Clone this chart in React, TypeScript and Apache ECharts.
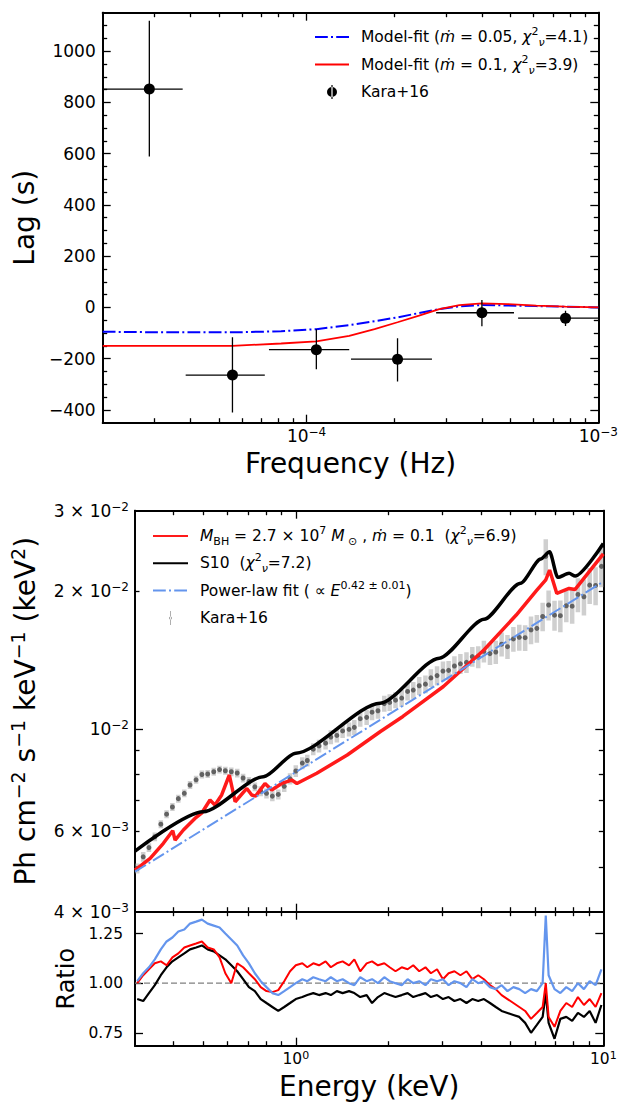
import React, { useEffect, useRef } from 'react';
import * as echarts from 'echarts';

const FONT = 'DejaVu Sans';
const MINUS = '\u2212';

// ---------- Top panel: lag-frequency ----------
const LAG_FREQ = [2.89e-5, 5.57e-5, 1.08e-4, 2.05e-4, 3.99e-4, 7.72e-4];
const LAG = [852, -264, -165, -202, -21, -42];
const LAG_F_LO = [2.0e-5, 3.85e-5, 7.43e-5, 1.42e-4, 2.78e-4, 5.31e-4];
const LAG_F_HI = [3.76e-5, 7.19e-5, 1.4e-4, 2.69e-4, 5.14e-4, 1.0e-3];
const LAG_LO = [589, -410, -241, -289, -74, -73];
const LAG_HI = [1119, -117, -85, -120, 29, -13];

const MODEL_FREQ = [2.0e-5, 3.0e-5, 5.57e-5, 8.18e-5, 1.08e-4, 1.4e-4, 1.71e-4, 2.05e-4, 2.43e-4, 2.85e-4, 3.34e-4, 3.99e-4, 4.9e-4, 6.13e-4, 7.72e-4, 1.0e-3];
const MODEL_M005 = [-95, -97, -97.5, -93, -85, -69, -54, -39, -22, -6.5, 4, 9, 7.5, 5, 2.6, 0];
const MODEL_M01 = [-150, -150, -150, -141, -133, -111, -85, -58, -32, -6.5, 9, 15.6, 13, 6.5, 2.6, 0];

// ---------- Middle panel: spectrum ----------
const SPEC_E = [
  0.305, 0.319, 0.333, 0.348, 0.364, 0.38, 0.397, 0.415, 0.434, 0.453,
  0.474, 0.495, 0.517, 0.541, 0.565, 0.59, 0.617, 0.645, 0.674, 0.704,
  0.736, 0.769, 0.803, 0.839, 0.877, 0.917, 0.958, 1.0, 1.05, 1.09,
  1.14, 1.19, 1.25, 1.3, 1.36, 1.42, 1.49, 1.55, 1.62, 1.7,
  1.77, 1.85, 1.94, 2.02, 2.11, 2.21, 2.31, 2.41, 2.52, 2.64,
  2.75, 2.88, 3.01, 3.14, 3.28, 3.43, 3.59, 3.75, 3.92, 4.09,
  4.28, 4.47, 4.67, 4.88, 5.1, 5.33, 5.57, 5.82, 6.08, 6.35,
  6.5, 6.64, 6.94, 7.25, 7.58, 7.92, 8.27, 8.65, 9.03, 9.44, 9.86,
];
const SPEC_F = [
  4.97e-3, 5.27e-3, 5.52e-3, 5.83e-3, 6.21e-3, 6.53e-3, 6.77e-3, 7.06e-3, 7.25e-3, 7.56e-3,
  7.76e-3, 7.97e-3, 7.99e-3, 8.08e-3, 8.17e-3, 8.12e-3, 8.08e-3, 8.03e-3, 7.83e-3, 7.7e-3,
  7.49e-3, 7.33e-3, 7.25e-3, 7.15e-3, 7.21e-3, 7.51e-3, 7.8e-3, 8.11e-3, 8.44e-3, 8.55e-3,
  9.05e-3, 9.2e-3, 9.33e-3, 9.62e-3, 9.7e-3, 9.92e-3, 1.0e-2, 1.01e-2, 1.055e-2, 1.062e-2,
  1.09e-2, 1.098e-2, 1.138e-2, 1.145e-2, 1.158e-2, 1.17e-2, 1.21e-2, 1.218e-2, 1.245e-2, 1.255e-2,
  1.295e-2, 1.31e-2, 1.34e-2, 1.345e-2, 1.375e-2, 1.39e-2, 1.4e-2, 1.441e-2, 1.439e-2, 1.48e-2,
  1.463e-2, 1.475e-2, 1.534e-2, 1.515e-2, 1.575e-2, 1.588e-2, 1.585e-2, 1.648e-2, 1.661e-2, 1.763e-2,
  2.385e-2, 1.868e-2, 1.775e-2, 1.77e-2, 1.861e-2, 1.857e-2, 1.969e-2, 1.947e-2, 2.064e-2, 2.061e-2, 2.268e-2,
];
const SPEC_RELERR = [
  0.025, 0.025, 0.022, 0.022, 0.02, 0.02, 0.02, 0.02, 0.02, 0.02,
  0.02, 0.02, 0.02, 0.02, 0.02, 0.02, 0.022, 0.022, 0.022, 0.022,
  0.022, 0.025, 0.025, 0.025, 0.025, 0.028, 0.028, 0.03, 0.03, 0.03,
  0.03, 0.032, 0.032, 0.035, 0.035, 0.035, 0.035, 0.038, 0.04, 0.038,
  0.04, 0.04, 0.04, 0.042, 0.04, 0.042, 0.045, 0.042, 0.045, 0.045,
  0.045, 0.048, 0.05, 0.048, 0.05, 0.05, 0.052, 0.05, 0.055, 0.055,
  0.055, 0.058, 0.06, 0.06, 0.062, 0.065, 0.065, 0.07, 0.07, 0.072,
  0.09, 0.075, 0.075, 0.08, 0.08, 0.085, 0.085, 0.09, 0.09, 0.095, 0.1,
];

const RED_E = [0.3, 0.336, 0.371, 0.398, 0.405, 0.431, 0.47, 0.494, 0.526, 0.546, 0.574, 0.608, 0.635, 0.693, 0.719, 0.74, 0.794, 0.835, 0.9, 0.97, 1.008, 1.17, 1.47, 1.88, 2.23, 3.02, 4.09, 5.21, 6.07, 6.5, 6.69, 7.06, 7.74, 8.1, 10.0];
const RED_F = [4.93e-3, 5.23e-3, 5.64e-3, 6.01e-3, 5.73e-3, 6.03e-3, 6.39e-3, 6.56e-3, 7.01e-3, 6.84e-3, 7.19e-3, 7.95e-3, 6.95e-3, 7.43e-3, 7.19e-3, 7.15e-3, 7.62e-3, 7.37e-3, 7.62e-3, 7.75e-3, 7.62e-3, 8.02e-3, 8.79e-3, 9.88e-3, 1.067e-2, 1.24e-2, 1.49e-2, 1.776e-2, 2.01e-2, 2.12e-2, 2.226e-2, 1.98e-2, 2.03e-2, 2.02e-2, 2.415e-2];

const S10_E = [0.3, 0.5, 0.784, 1.0, 1.88, 2.93, 4.09, 5.38, 6.26, 6.69, 7.11, 7.74, 8.1, 10.0];
const S10_F = [5.42e-3, 6.61e-3, 7.88e-3, 8.87e-3, 1.14e-2, 1.43e-2, 1.738e-2, 2.083e-2, 2.353e-2, 2.44e-2, 2.146e-2, 2.19e-2, 2.16e-2, 2.545e-2];

const PL_E = [0.3, 10.0];
const PL_F = [4.89e-3, 2.1e-2];

// ---------- Bottom panel: ratios (same energy grid as SPEC_E) ----------
const RATIO_PL = [
  1.01, 1.05, 1.08, 1.12, 1.17, 1.21, 1.23, 1.26, 1.27, 1.3,
  1.31, 1.32, 1.3, 1.29, 1.28, 1.25, 1.22, 1.19, 1.14, 1.1,
  1.05, 1.01, 0.98, 0.95, 0.94, 0.96, 0.98, 1.0, 1.02, 1.01,
  1.03, 1.02, 1.01, 1.03, 1.01, 1.02, 1.0, 0.99, 1.03, 1.01,
  1.02, 1.0, 1.03, 1.01, 1.0, 0.99, 1.02, 1.0, 1.01, 0.99,
  1.02, 1.01, 1.02, 0.99, 1.01, 1.0, 0.98, 1.02, 1.0, 1.01,
  0.98, 0.97, 0.99, 0.96, 0.98, 0.97, 0.95, 0.97, 0.96, 1.0,
  1.34, 1.04, 0.97, 0.95, 0.98, 0.96, 1.0, 0.97, 1.01, 0.99, 1.07,
];
const RATIO_MODEL = [
  1.0, 1.04, 1.07, 1.1, 1.11, 1.09, 1.13, 1.15, 1.18, 1.19,
  1.2, 1.21, 1.18, 1.17, 1.13, 1.05, 1.0, 1.1, 1.08, 1.05,
  1.02, 0.98, 0.96, 0.955, 0.965, 1.01, 1.06, 1.09, 1.1, 1.08,
  1.1, 1.09, 1.11, 1.08, 1.1, 1.11, 1.09, 1.12, 1.06, 1.1,
  1.11, 1.09, 1.1, 1.08, 1.06, 1.08, 1.07, 1.09, 1.06, 1.08,
  1.05, 1.07, 1.02, 1.05, 1.06, 1.04, 1.06, 1.02, 1.04, 1.02,
  0.99, 0.97, 0.94, 0.92, 0.9, 0.88, 0.86, 0.82, 0.85, 0.88,
  1.0, 0.83, 0.78, 0.86, 0.9, 0.88, 0.93, 0.89, 0.92, 0.88, 0.95,
];
const RATIO_S10 = [
  0.92, 0.91, 0.95, 0.99, 1.04, 1.08, 1.11, 1.13, 1.15, 1.17,
  1.18, 1.19, 1.17, 1.16, 1.14, 1.12, 1.09, 1.06, 1.02, 0.98,
  0.96, 0.92, 0.9, 0.88, 0.86, 0.88, 0.9, 0.92, 0.93, 0.94,
  0.95, 0.94, 0.95, 0.94, 0.96, 0.95, 0.96, 0.95, 0.93, 0.94,
  0.9, 0.93, 0.95, 0.94, 0.93, 0.94, 0.95, 0.93, 0.94, 0.95,
  0.93, 0.94, 0.92, 0.93, 0.91, 0.92, 0.9, 0.92, 0.91, 0.92,
  0.9, 0.88, 0.86, 0.85, 0.84, 0.83, 0.8, 0.75, 0.79, 0.83,
  0.95, 0.8, 0.72, 0.82, 0.83, 0.81, 0.85, 0.83, 0.86, 0.8, 0.89,
];
const UNITY_E = [0.3, 10.0];
const UNITY_R = [1.0, 1.0];

// ---------- Ticks ----------
const TOP_X_MAJOR = [1e-4];
const TOP_X_LABELS = [1e-4, 1e-3];
const TOP_X_MINOR = [3e-5, 4e-5, 5e-5, 6e-5, 7e-5, 8e-5, 9e-5, 2e-4, 3e-4, 4e-4, 5e-4, 6e-4, 7e-4, 8e-4, 9e-4];
const TOP_Y_MAJOR = [-400, -200, 0, 200, 400, 600, 800, 1000];
const TOP_Y_MINOR = [-350, -300, -250, -150, -100, -50, 50, 100, 150, 250, 300, 350, 450, 500, 550, 650, 700, 750, 850, 900, 950, 1050, 1100];
const E_MAJOR = [1];
const E_LABELS = [1, 10];
const E_MINOR = [0.4, 0.5, 0.6, 0.7, 0.8, 0.9, 2, 3, 4, 5, 6, 7, 8, 9];
const SPEC_Y_MAJOR = [0.01];
const SPEC_Y_LABELS = [0.004, 0.006, 0.01, 0.02, 0.03];
const SPEC_Y_MINOR = [0.005, 0.006, 0.007, 0.008, 0.009, 0.02];
const RATIO_Y = [0.75, 1.0, 1.25];

// ---------- Names ----------
const N_M005 = 'Model-fit (ṁ = 0.05, χ²ν=4.1)';
const N_M01 = 'Model-fit (ṁ = 0.1, χ²ν=3.9)';
const N_KARA = 'Kara+16';
const N_RED = 'M_BH = 2.7 × 10⁷ M⊙, ṁ = 0.1  (χ²ν=6.9)';
const N_S10 = 'S10  (χ²ν=7.2)';
const N_PL = 'Power-law fit ( ∝ E^0.42 ± 0.01)';

const LEGEND_RICH_TEXT: Record<string, string> = {
  [N_M005]: '{t|Model-fit (}{i|ṁ}{t| = 0.05, }{i|χ}{sup|2}{sub|ν}{t|=4.1)}',
  [N_M01]: '{t|Model-fit (}{i|ṁ}{t| = 0.1, }{i|χ}{sup|2}{sub|ν}{t|=3.9)}',
  [N_KARA]: '{t|Kara+16}',
  [N_RED]: '{i|M}{subr|BH}{t| = 2.7 × 10}{sup|7}{t| }{i|M}{subr| ⊙}{t| , }{i|ṁ}{t| = 0.1  (}{i|χ}{sup|2}{sub|ν}{t|=6.9)}',
  [N_S10]: '{t|S10  (}{i|χ}{sup|2}{sub|ν}{t|=7.2)}',
  [N_PL]: '{t|Power-law fit ( ∝ }{i|E}{sup|0.42 ± 0.01}{t|)}',
};

const LEGEND_RICH = {
  t: { fontSize: 15.5, fontFamily: FONT, color: '#000', lineHeight: 22 },
  i: { fontSize: 15.5, fontFamily: FONT, fontStyle: 'italic', color: '#000', lineHeight: 22 },
  sup: { fontSize: 11, fontFamily: FONT, color: '#000', lineHeight: 11, verticalAlign: 'top' },
  sub: { fontSize: 11, fontFamily: FONT, fontStyle: 'italic', color: '#000', lineHeight: 11, verticalAlign: 'bottom' },
  subr: { fontSize: 11, fontFamily: FONT, color: '#000', lineHeight: 11, verticalAlign: 'bottom' },
};

function powLabel(v: number): string {
  const e = Math.floor(Math.log10(v) + 1e-9);
  const m = Math.round(v / Math.pow(10, e));
  const es = e < 0 ? MINUS + String(-e) : String(e);
  return m === 1 ? `{b|10}{s|${es}}` : `{b|${m} × 10}{s|${es}}`;
}

const AX_LINE = { show: true, onZero: false, lineStyle: { color: '#000', width: 1.8 } };

function mkAxis(base: any, ticks: number[], len: number, label?: any) {
  return {
    ...base,
    axisLine: AX_LINE,
    axisTick: ticks.length
      ? { show: true, inside: true, length: len, customValues: ticks, lineStyle: { color: '#000', width: 1.3 } }
      : { show: false },
    axisLabel: label || { show: false },
    splitLine: { show: false },
    minorTick: { show: false },
  };
}

function supRich(size: number, supSize: number, lh: number) {
  return {
    b: { fontSize: size, fontFamily: FONT, color: '#000', lineHeight: lh },
    s: { fontSize: supSize, fontFamily: FONT, color: '#000', lineHeight: supSize, verticalAlign: 'top' },
  };
}

function buildOption(): any {
  const G0 = { left: 102.7, top: 12.7, width: 495.6, height: 410 };
  const G1 = { left: 135, top: 510.7, width: 468.3, height: 401 };
  const G2 = { left: 135, top: 911.7, width: 468.3, height: 134 };

  const topX = { type: 'log', logBase: 10, min: 2e-5, max: 1e-3 };
  const topY = { type: 'value', min: -450, max: 1150 };
  const eX = { type: 'log', logBase: 10, min: 0.3, max: 10 };
  const specY = { type: 'log', logBase: 10, min: 0.004, max: 0.03 };
  const ratY = { type: 'value', min: 0.685, max: 1.36 };

  const nameStyle = (size: number) => ({ fontSize: size, fontFamily: FONT, color: '#000', lineHeight: size });

  const xAxis = [
    mkAxis({ ...topX, gridIndex: 0, position: 'bottom', name: 'Frequency (Hz)', nameLocation: 'middle', nameGap: 27, nameTextStyle: nameStyle(28) }, TOP_X_MAJOR, 8, {
      show: true, customValues: TOP_X_LABELS, margin: 3, formatter: (v: number) => powLabel(v), rich: supRich(17, 12, 20),
    }),
    mkAxis({ ...topX, gridIndex: 0, position: 'top' }, TOP_X_MAJOR, 8),
    mkAxis({ ...topX, gridIndex: 0, position: 'bottom' }, TOP_X_MINOR, 4.5),
    mkAxis({ ...topX, gridIndex: 0, position: 'top' }, TOP_X_MINOR, 4.5),
    mkAxis({ ...eX, gridIndex: 1, position: 'bottom' }, E_MAJOR, 8),
    mkAxis({ ...eX, gridIndex: 1, position: 'top' }, E_MAJOR, 8),
    mkAxis({ ...eX, gridIndex: 1, position: 'bottom' }, E_MINOR, 4.5),
    mkAxis({ ...eX, gridIndex: 1, position: 'top' }, E_MINOR, 4.5),
    mkAxis({ ...eX, gridIndex: 2, position: 'bottom', name: 'Energy (keV)', nameLocation: 'middle', nameGap: 27, nameTextStyle: nameStyle(28) }, E_MAJOR, 8, {
      show: true, customValues: E_LABELS, margin: 4, formatter: (v: number) => powLabel(v), rich: supRich(15.5, 11, 18),
    }),
    mkAxis({ ...eX, gridIndex: 2, position: 'top' }, E_MAJOR, 8),
    mkAxis({ ...eX, gridIndex: 2, position: 'bottom' }, E_MINOR, 4.5),
    mkAxis({ ...eX, gridIndex: 2, position: 'top' }, E_MINOR, 4.5),
  ];

  const yAxis = [
    mkAxis({ ...topY, gridIndex: 0, position: 'left', name: 'Lag (s)', nameLocation: 'middle', nameGap: 60, nameTextStyle: nameStyle(28) }, TOP_Y_MAJOR, 8, {
      show: true, customValues: TOP_Y_MAJOR, margin: 7, fontSize: 17, fontFamily: FONT, color: '#000',
      formatter: (v: number) => (v < 0 ? MINUS + String(-v) : String(v)),
    }),
    mkAxis({ ...topY, gridIndex: 0, position: 'right' }, TOP_Y_MAJOR, 8),
    mkAxis({ ...topY, gridIndex: 0, position: 'left' }, TOP_Y_MINOR, 4.5),
    mkAxis({ ...topY, gridIndex: 0, position: 'right' }, TOP_Y_MINOR, 4.5),
    mkAxis({
      ...specY, gridIndex: 1, position: 'left',
      name: '{a|Ph cm}{s|−2}{a| s}{s|−1}{a| keV}{s|−1}{a| (keV}{s|2}{a|)}',
      nameLocation: 'middle', nameGap: 86,
      nameTextStyle: {
        fontSize: 28, fontFamily: FONT, color: '#000', lineHeight: 34,
        rich: {
          a: { fontSize: 28, fontFamily: FONT, color: '#000', lineHeight: 34 },
          s: { fontSize: 19, fontFamily: FONT, color: '#000', lineHeight: 19, verticalAlign: 'top' },
        },
      },
    }, SPEC_Y_MAJOR, 8, {
      show: true, customValues: SPEC_Y_LABELS, margin: 6, formatter: (v: number) => powLabel(v), rich: supRich(17, 12, 20),
    }),
    mkAxis({ ...specY, gridIndex: 1, position: 'right' }, SPEC_Y_MAJOR, 8),
    mkAxis({ ...specY, gridIndex: 1, position: 'left' }, SPEC_Y_MINOR, 4.5),
    mkAxis({ ...specY, gridIndex: 1, position: 'right' }, SPEC_Y_MINOR, 4.5),
    mkAxis({ ...ratY, gridIndex: 2, position: 'left', name: 'Ratio', nameLocation: 'middle', nameGap: 53, nameTextStyle: nameStyle(24) }, RATIO_Y, 8, {
      show: true, customValues: RATIO_Y, margin: 12, fontSize: 15.5, fontFamily: FONT, color: '#000',
      formatter: (v: number) => v.toFixed(2),
    }),
    mkAxis({ ...ratY, gridIndex: 2, position: 'right' }, RATIO_Y, 8),
    mkAxis({ ...ratY, gridIndex: 2, position: 'left' }, [], 4.5),
    mkAxis({ ...ratY, gridIndex: 2, position: 'right' }, [], 4.5),
  ];

  const zip = (xs: number[], ys: number[]) => xs.map((x, i) => [x, ys[i]]);

  const lagErr = LAG_FREQ.map((f, i) => [f, LAG[i], LAG_LO[i], LAG_HI[i], LAG_F_LO[i], LAG_F_HI[i]]);
  const specErr = SPEC_E.map((e, i) => [e, SPEC_F[i], SPEC_F[i] * (1 - SPEC_RELERR[i]), SPEC_F[i] * (1 + SPEC_RELERR[i])]);

  const errRender = (color: string, width: number, horiz: boolean) => (params: any, api: any) => {
    const x = api.value(0);
    const y = api.value(1);
    const a = api.coord([x, api.value(2)]);
    const b = api.coord([x, api.value(3)]);
    const children: any[] = [
      { type: 'line', shape: { x1: a[0], y1: a[1], x2: b[0], y2: b[1] }, style: { stroke: color, lineWidth: width } },
    ];
    if (horiz) {
      const c = api.coord([api.value(4), y]);
      const d = api.coord([api.value(5), y]);
      children.push({ type: 'line', shape: { x1: c[0], y1: c[1], x2: d[0], y2: d[1] }, style: { stroke: color, lineWidth: width } });
    }
    return { type: 'group', children };
  };

  const lineS = (name: string, xi: number, data: number[][], color: string, width: number, type: any, z = 3, smooth: any = false) => ({
    type: 'line', name, xAxisIndex: xi, yAxisIndex: xi, data, symbol: 'none', showSymbol: false,
    lineStyle: { color, width, type }, itemStyle: { color }, smooth, smoothMonotone: 'x', z, silent: true,
  });

  const series: any[] = [
    lineS(N_M005, 0, zip(MODEL_FREQ, MODEL_M005), '#0000ff', 2, [12.8, 3.2, 2, 3.2], 3),
    lineS(N_M01, 0, zip(MODEL_FREQ, MODEL_M01), '#ff0000', 1.8, 'solid', 3),
    {
      type: 'custom', name: 'lag-err', xAxisIndex: 0, yAxisIndex: 0, data: lagErr, clip: true, z: 4, silent: true,
      renderItem: errRender('#000', 1.3, true), encode: { x: 0, y: 1 },
    },
    {
      type: 'scatter', name: N_KARA, xAxisIndex: 0, yAxisIndex: 0, data: zip(LAG_FREQ, LAG), symbol: 'circle', symbolSize: 11,
      itemStyle: { color: '#000', opacity: 1 }, z: 5, silent: true,
    },
    {
      type: 'custom', name: 'spec-err', xAxisIndex: 4, yAxisIndex: 4, data: specErr, clip: true, z: 2, silent: true,
      renderItem: errRender('rgba(160,160,160,0.5)', 4.5, false), encode: { x: 0, y: 1 },
    },
    {
      type: 'scatter', name: N_KARA, xAxisIndex: 4, yAxisIndex: 4, data: zip(SPEC_E, SPEC_F), symbol: 'circle', symbolSize: 5,
      itemStyle: { color: 'rgba(25,25,25,0.75)' }, z: 2, silent: true,
    },
    lineS(N_RED, 4, zip(RED_E, RED_F), '#ff1a1a', 3.5, 'solid', 4),
    lineS(N_S10, 4, zip(S10_E, S10_F), '#000000', 3.5, 'solid', 4, 0.25),
    lineS(N_PL, 4, zip(PL_E, PL_F), '#6495ed', 2, [12.8, 3.2, 2, 3.2], 5),
    lineS('unity', 8, zip(UNITY_E, UNITY_R), '#808080', 1.3, [6, 3], 2),
    lineS('ratio-s10', 8, zip(SPEC_E, RATIO_S10), '#000000', 2.2, 'solid', 3),
    lineS('ratio-model', 8, zip(SPEC_E, RATIO_MODEL), '#ff0000', 2, 'solid', 4),
    lineS('ratio-pl', 8, zip(SPEC_E, RATIO_PL), '#6495ed', 2.2, 'solid', 5),
  ];

  const noSym = { opacity: 0 };
  const legendBase = {
    orient: 'vertical', itemWidth: 34, itemHeight: 14, selectedMode: false,
    formatter: (name: string) => LEGEND_RICH_TEXT[name] || name,
    textStyle: { fontSize: 15.5, fontFamily: FONT, color: '#000', lineHeight: 22, padding: [0, 0, 0, 7], rich: LEGEND_RICH },
  };

  const legend = [
    {
      ...legendBase, left: 309, top: 21, itemGap: 5.5,
      data: [
        { name: N_M005, itemStyle: noSym },
        { name: N_M01, itemStyle: noSym },
        { name: N_KARA, icon: 'path://M4.4 0 H5.6 V14 H4.4 Z M5 2 A5 5 0 1 0 5 12 A5 5 0 1 0 5 2 Z', itemStyle: { color: '#000' } },
      ],
    },
    {
      ...legendBase, left: 147, top: 520, itemGap: 5.3, itemWidth: 35,
      data: [
        { name: N_RED, itemStyle: noSym },
        { name: N_S10, itemStyle: noSym },
        { name: N_PL, itemStyle: noSym },
        { name: N_KARA, icon: 'path://M4.4 0 H5.6 V20 H4.4 Z M5 8 A2.2 2.2 0 1 0 5 12.4 A2.2 2.2 0 1 0 5 8 Z', itemStyle: { color: '#a0a0a0' } },
      ],
    },
  ];

  return {
    animation: false,
    backgroundColor: '#ffffff',
    grid: [
      { ...G0, containLabel: false },
      { ...G1, containLabel: false },
      { ...G2, containLabel: false },
    ],
    xAxis,
    yAxis,
    legend,
    series,
  };
}

export default function App() {
  const ref = useRef<HTMLDivElement>(null);
  useEffect(() => {
    if (!ref.current) return;
    const chart = echarts.init(ref.current, null, { renderer: 'svg' });
    chart.setOption(buildOption());
    return () => chart.dispose();
  }, []);
  return (
    <div
      ref={ref}
      style={{ position: 'absolute', left: 0, top: 0, width: 632, height: 1104, background: '#ffffff' }}
    />
  );
}
